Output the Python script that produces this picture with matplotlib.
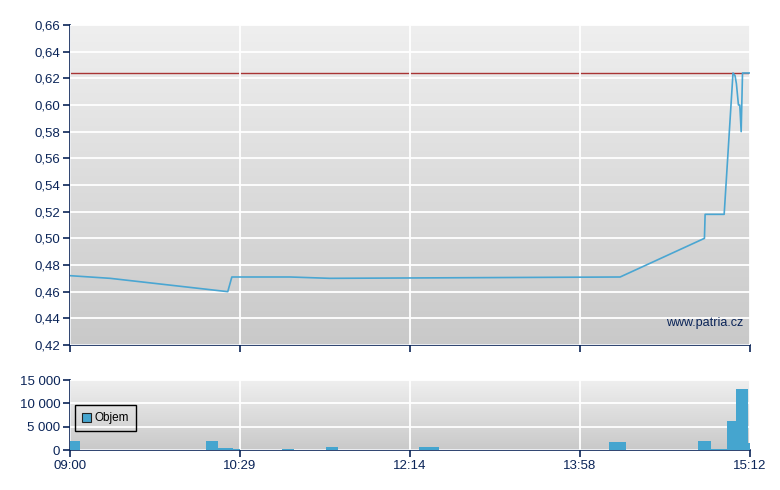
import numpy as np
import matplotlib
matplotlib.use('Agg')
import matplotlib.pyplot as plt
from matplotlib.colors import LinearSegmentedColormap
from matplotlib.ticker import FuncFormatter

# Price line (x = position in session, 0..100)
price_x = [0, 5.9, 23.2, 23.8, 32.4, 38.2, 80.9, 93.3, 93.4, 96.2, 97.5, 97.8, 98.0, 98.3, 98.5, 98.7, 98.9, 100]
price_y = [0.472, 0.470, 0.460, 0.471, 0.471, 0.470, 0.471, 0.500, 0.518, 0.518, 0.624, 0.622, 0.616, 0.600, 0.600, 0.580, 0.624, 0.624]
ref_price = 0.624

# Volume bars: left edge, width, volume
vol_left = [0, 20.0, 21.8, 24.0, 31.2, 37.6, 51.3, 79.3, 92.4, 94.1, 96.6, 97.9, 99.7]
vol_width = [1.5, 1.8, 2.2, 1.0, 1.8, 1.8, 2.9, 2.4, 1.8, 2.5, 1.3, 1.8, 0.3]
vol_value = [2000, 2000, 500, 150, 200, 600, 700, 1700, 1900, 200, 6200, 13000, 1500]

tick_pos = [0, 25, 50, 75, 100]
tick_labels = ['09:00', '10:29', '12:14', '13:58', '15:12']
price_ticks = np.arange(0.42, 0.6601, 0.02)
vol_ticks = [0, 5000, 10000, 15000]

navy = '#0a2458'
line_color = '#4aa6d2'
bar_color = '#45a5cf'
plt.rcParams['font.family'] = ['Liberation Sans', 'DejaVu Sans']
plt.rcParams['font.size'] = 9

grad = LinearSegmentedColormap.from_list('bg', ['#efefef', '#c9c9c9'])


def style_axes(ax):
    ax.imshow(np.linspace(0, 1, 256).reshape(-1, 1), cmap=grad, aspect='auto',
              extent=[0, 1, 0, 1], transform=ax.transAxes, origin='upper', zorder=0)
    for s in ['top', 'right']:
        ax.spines[s].set_visible(False)
    for s in ['left', 'bottom']:
        ax.spines[s].set_color(navy)
        ax.spines[s].set_linewidth(1.2)
    ax.tick_params(colors=navy, length=5, width=1.2, labelcolor=navy, pad=2,
                   labelsize=9.5)
    ax.grid(True, color='white', linewidth=1.3, zorder=1)
    ax.set_axisbelow(False)
    ax.set_xlim(0, 100)
    ax.set_xticks(tick_pos)


fig = plt.figure(figsize=(7.8, 4.9), dpi=100)
ax1 = fig.add_axes([70 / 780, 1 - 345 / 490, 680 / 780, 320 / 490])
ax2 = fig.add_axes([70 / 780, 1 - 450 / 490, 680 / 780, 70 / 490])

style_axes(ax1)
ax1.set_ylim(0.42, 0.66)
ax1.set_yticks(price_ticks)
ax1.yaxis.set_major_formatter(FuncFormatter(lambda v, p: f'{v:.2f}'.replace('.', ',')))
ax1.set_xticklabels([])
ax1.axhline(ref_price, color='#a83434', linewidth=1, zorder=2)
ax1.plot(price_x, price_y, color=line_color, linewidth=1.2, zorder=3)
ax1.text(0.99, 0.07, 'www.patria.cz', transform=ax1.transAxes, ha='right',
         va='center', color=navy, fontsize=9, zorder=4)

style_axes(ax2)
ax2.set_ylim(0, 15000)
ax2.set_yticks(vol_ticks)
ax2.yaxis.set_major_formatter(FuncFormatter(lambda v, p: f'{int(v):,}'.replace(',', ' ')))
ax2.set_xticklabels(tick_labels)
ax2.bar(vol_left, vol_value, width=vol_width, align='edge', color=bar_color,
        label='Objem', zorder=3)
leg = ax2.legend(loc='upper left', bbox_to_anchor=(0.007, 0.64), frameon=True,
                 fancybox=False, edgecolor='black',
                 handlelength=0.8, handleheight=0.8, handletextpad=0.3,
                 borderpad=0.6, borderaxespad=0, fontsize=8.5)
leg.get_frame().set_facecolor('none')
leg.get_frame().set_alpha(None)
leg.get_frame().set_linewidth(1)
for h in leg.legend_handles:
    h.set_edgecolor('#222222')
    h.set_linewidth(0.8)
for t in leg.get_texts():
    t.set_color('black')

fig.savefig('out.png', dpi=100)
